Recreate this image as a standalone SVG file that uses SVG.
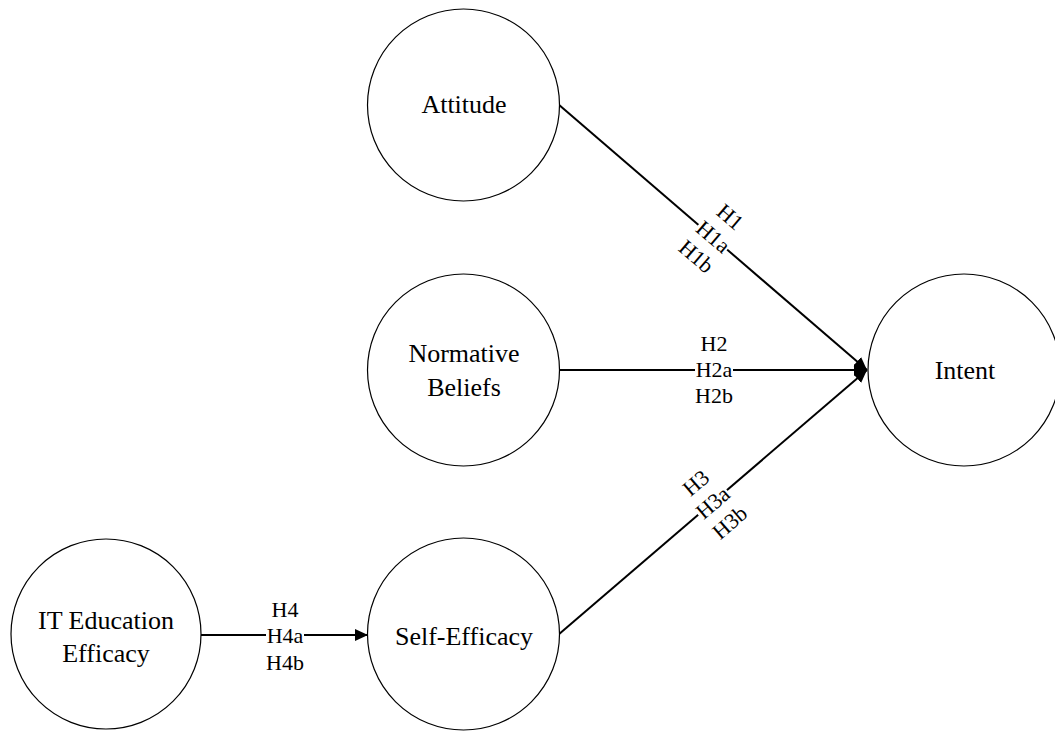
<svg xmlns="http://www.w3.org/2000/svg" width="1055" height="731" viewBox="0 0 1055 731">
<style>
.node circle{fill:#fff;stroke:#000;stroke-width:1.2}
.node text{font-family:'Liberation Serif','Times New Roman',serif;font-size:26px;fill:#000;text-anchor:middle}
.lbl{font-family:'Liberation Serif','Times New Roman',serif;font-size:22px;fill:#000;text-anchor:middle}
.edge{stroke:#000;stroke-width:2;fill:none}
.bg{fill:#fff}
</style>
<defs>
<marker id="arr" markerUnits="userSpaceOnUse" markerWidth="14" markerHeight="14" refX="13" refY="6" orient="auto">
<path d="M0,0 L13,6 L0,12 Z" fill="#000"/>
</marker>
</defs>
<rect width="1055" height="731" fill="#fff"/>
<g id="connectors">
<line class="edge" x1="558" y1="104" x2="867" y2="370" marker-end="url(#arr)"/>
<line class="edge" x1="559" y1="370" x2="867" y2="370" marker-end="url(#arr)"/>
<line class="edge" x1="558" y1="635" x2="867" y2="370" marker-end="url(#arr)"/>
<line class="edge" x1="201" y1="635" x2="368" y2="635" marker-end="url(#arr)"/>
<g transform="rotate(40.6 713 237)">
<rect class="bg" x="694" y="228" width="38" height="18"/>
<text class="lbl" x="713" y="218">H1</text>
<text class="lbl" x="713" y="244">H1a</text>
<text class="lbl" x="713" y="270">H1b</text>
</g>
<rect class="bg" x="695" y="361" width="38" height="18"/>
<text class="lbl" x="714" y="351">H2</text>
<text class="lbl" x="714" y="377">H2a</text>
<text class="lbl" x="714" y="403">H2b</text>
<g transform="rotate(-40.7 713 503)">
<rect class="bg" x="694" y="494" width="38" height="18"/>
<text class="lbl" x="713" y="484">H3</text>
<text class="lbl" x="713" y="510">H3a</text>
<text class="lbl" x="713" y="536">H3b</text>
</g>
<rect class="bg" x="266" y="626" width="38" height="18"/>
<text class="lbl" x="285" y="617">H4</text>
<text class="lbl" x="285" y="643">H4a</text>
<text class="lbl" x="285" y="670">H4b</text>
</g>
<g id="attitude" class="node">
<circle cx="463.5" cy="105" r="96"/>
<text x="464" y="113">Attitude</text>
</g>
<g id="normative" class="node">
<circle cx="463.5" cy="370" r="96"/>
<text x="464" y="362">Normative</text>
<text x="464" y="396">Beliefs</text>
</g>
<g id="selfefficacy" class="node">
<circle cx="463.5" cy="634" r="96"/>
<text x="464" y="645">Self-Efficacy</text>
</g>
<g id="itedu" class="node">
<circle cx="106" cy="634" r="95"/>
<text x="106" y="629">IT Education</text>
<text x="106" y="662">Efficacy</text>
</g>
<g id="intent" class="node">
<circle cx="964" cy="370" r="96"/>
<text x="965" y="379">Intent</text>
</g>
</svg>
